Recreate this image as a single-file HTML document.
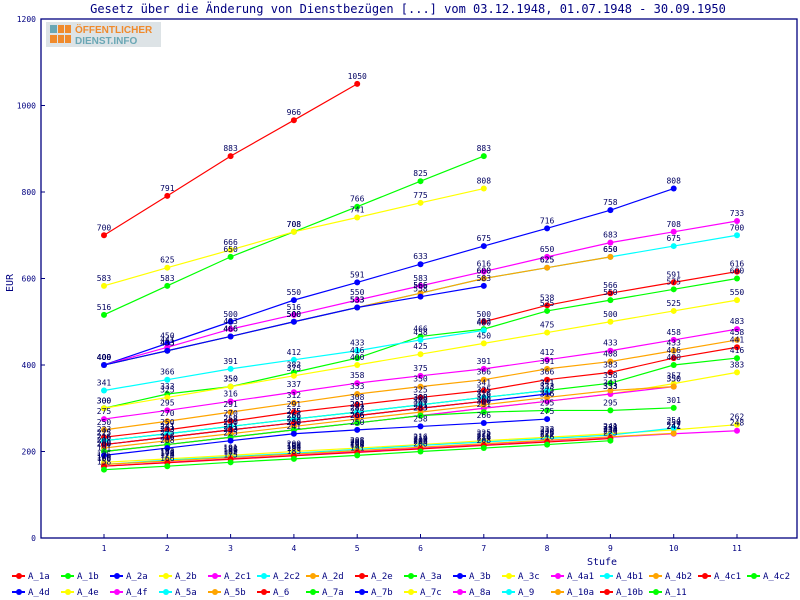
<!DOCTYPE html>
<html><head><meta charset="utf-8"><style>
body{margin:0;background:#fff;}
svg{display:block;font-family:"DejaVu Sans Mono","Liberation Mono",monospace;}
</style></head><body>
<svg id="chart" width="800" height="600" xmlns="http://www.w3.org/2000/svg">
<rect width="800" height="600" fill="#fff"/>
<text x="408" y="13" text-anchor="middle" font-size="12" fill="#000080">Gesetz über die Änderung von Dienstbezügen [...] vom 03.12.1948, 01.07.1948 - 30.09.1950</text>
<g id="logo">
<rect x="46" y="22" width="115" height="25" fill="#dde3e6"/>
<rect x="50" y="25" width="7" height="8" fill="#6aa7b5"/><rect x="58" y="25" width="6" height="8" fill="#f08a2c"/><rect x="65" y="25" width="6" height="8" fill="#f08a2c"/>
<rect x="50" y="35" width="7" height="8" fill="#f08a2c"/><rect x="58" y="35" width="6" height="8" fill="#f08a2c"/><rect x="65" y="35" width="6" height="8" fill="#f08a2c"/>
<text x="75" y="33" font-family="Liberation Sans,sans-serif" font-weight="bold" font-size="10" fill="#f08a2c">ÖFFENTLICHER</text>
<text x="75" y="44" font-family="Liberation Sans,sans-serif" font-weight="bold" font-size="10" fill="#6aa7b5">DIENST.INFO</text>
</g>
<g id="axes"></g>
<g id="series"></g>
<g id="labels"></g>
<g id="legend"></g>
</svg>
<script>
const categories=[1,2,3,4,5,6,7,8,9,10,11];
const yTicks=[0,200,400,600,800,1000,1200];
const names=["A_1a","A_1b","A_2a","A_2b","A_2c1","A_2c2","A_2d","A_2e","A_3a","A_3b","A_3c","A_4a1","A_4b1","A_4b2","A_4c1","A_4c2","A_4d","A_4e","A_4f","A_5a","A_5b","A_6","A_7a","A_7b","A_7c","A_8a","A_9","A_10a","A_10b","A_11"];
const s_A_1a=[700,791,883,966,1050];
const s_A_1b=[516,583,650,708,766,825,883];
const s_A_2a=[400,450,500,550,591,633,675,716,758,808];
const s_A_2b=[583,625,666,708,741,775,808];
const s_A_2c1=[400,441,483,516,550,583,616,650,683,708,733];
const s_A_2c2=[400,433,466,500,533,566,600,625,650,675,700];
const s_A_2d=[400,433,466,500,533,566,600,625,650];
const s_A_2e=[null,null,null,null,null,null,500,538,566,591,616];
const s_A_3a=[300,333,350,383,416,466,483,525,550,575,600];
const s_A_3b=[400,433,466,500,533,558,583];
const s_A_3c=[300,325,350,375,400,425,450,475,500,525,550];
const s_A_4a1=[275,295,316,337,358,375,391,412,433,458,483];
const s_A_4b1=[341,366,391,412,433,458,480];
const s_A_4b2=[250,270,291,312,333,350,366,391,408,433,458];
const s_A_4c1=[233,250,270,291,308,325,341,366,383,416,441];
const s_A_4c2=[225,241,258,275,291,308,325,341,358,400,416];
const s_A_4d=[216,233,250,266,283,300,316,333];
const s_A_4e=[200,216,233,250,266,283,300,316,333,357,383];
const s_A_4f=[200,216,233,250,266,283,300,316,333,350];
const s_A_5a=[225,241,258,275,291,308,325,341];
const s_A_5b=[208,225,241,258,275,291,308,325,341,350];
const s_A_6=[216,233,250,266,283,300,316];
const s_A_7a=[200,216,233,250,266,283,291,295,295,301];
const s_A_7b=[191,208,225,241,250,258,266,275];
const s_A_7c=[175,183,191,200,208,216,225,233,241,250,262];
const s_A_8a=[166,175,183,191,200,208,216,225,233,241,248];
const s_A_9=[170,180,188,196,205,214,222,230,238,254];
const s_A_10a=[170,178,186,194,202,210,218,226,234,242];
const s_A_10b=[166,174,182,190,198,206,214,222,230];
const s_A_11=[158,166,175,183,191,200,208,216,225];
const seriesData=[s_A_1a,s_A_1b,s_A_2a,s_A_2b,s_A_2c1,s_A_2c2,s_A_2d,s_A_2e,s_A_3a,s_A_3b,s_A_3c,s_A_4a1,s_A_4b1,s_A_4b2,s_A_4c1,s_A_4c2,s_A_4d,s_A_4e,s_A_4f,s_A_5a,s_A_5b,s_A_6,s_A_7a,s_A_7b,s_A_7c,s_A_8a,s_A_9,s_A_10a,s_A_10b,s_A_11];
const palette=["#ff0000","#00ff00","#0000ff","#ffff00","#ff00ff","#00ffff","#ffa500"];
const NS="http://www.w3.org/2000/svg";
const L=41,R=797,T=19,B=538;
function xPos(c){return 104+(c-1)*63.3;}
function yPos(v){return B-v*(B-T)/1200;}
function mk(tag,attrs,parent){const e=document.createElementNS(NS,tag);for(const k in attrs)e.setAttribute(k,attrs[k]);parent.appendChild(e);return e;}
const axes=document.getElementById('axes');
const frame=mk('rect',{x:L,y:T,width:R-L,height:B-T,fill:'none',stroke:'#000080','stroke-width':1.3},axes);


yTicks.forEach(v=>{const t=mk('text',{x:36,y:yPos(v)+3,'text-anchor':'end','font-size':8,fill:'#000080'},axes);t.textContent=v;


mk('line',{x1:L,x2:L+4,y1:yPos(v),y2:yPos(v),stroke:'#000080'},axes);});
categories.forEach(c=>{const t=mk('text',{x:xPos(c),y:551,'text-anchor':'middle','font-size':8,fill:'#000080'},axes);t.textContent=c;


mk('line',{x1:xPos(c),x2:xPos(c),y1:B,y2:B-4,stroke:'#000080'},axes);});
const yt=mk('text',{x:0,y:0,'font-size':10,fill:'#000080','text-anchor':'middle',transform:'translate(13,283) rotate(-90)'},axes);yt.textContent='EUR';


const xt=mk('text',{x:602,y:565,'font-size':10,fill:'#000080','text-anchor':'middle'},axes);xt.textContent='Stufe';


const sg=document.getElementById('series'),lg=document.getElementById('labels'),leg=document.getElementById('legend');
seriesData.forEach((d,i)=>{
 const col=palette[i%7];
 const g=mk('g',{},sg);
 
 
 const pts=[];
 d.forEach((v,j)=>{if(v!==null&&v!==undefined)pts.push(xPos(categories[j])+','+yPos(v));});
 mk('polyline',{points:pts.join(' '),fill:'none',stroke:col,'stroke-width':1.2},g);
 d.forEach((v,j)=>{
  if(v===null||v===undefined)return;
  const c=mk('circle',{cx:xPos(categories[j]),cy:yPos(v),r:3,fill:col},g);
  
  
  const t=mk('text',{x:xPos(categories[j]),y:yPos(v)-5,'text-anchor':'middle','font-size':8,fill:'#000060'},lg);
  t.textContent=v;
  
  
 });
 const row=i<16?0:1,colI=i<16?i:i-16;
 const lx=12+colI*49,ly=row?595:579;
 const e=mk('g',{},leg);
 
 
 mk('line',{x1:lx,x2:lx+13,y1:ly-3,y2:ly-3,stroke:col,'stroke-width':2},e);
 mk('circle',{cx:lx+7,cy:ly-3,r:3,fill:col},e);
 const lt=mk('text',{x:lx+16,y:ly,'font-size':9,fill:'#000080'},e);lt.textContent=names[i];
});
</script>
</body></html>
